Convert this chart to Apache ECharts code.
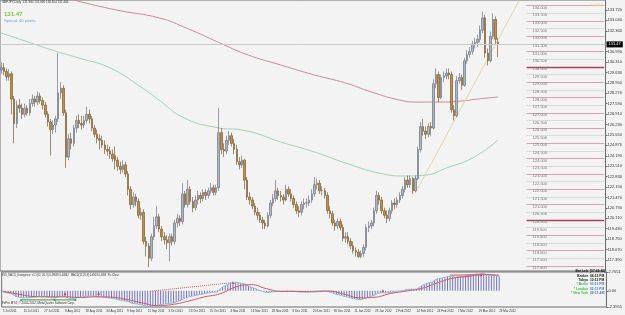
<!DOCTYPE html>
<html>
<head>
<meta charset="utf-8">
<script src="https://cdn.jsdelivr.net/npm/echarts@6.0.0/dist/echarts.min.js"></script>
<style>
  html, body { margin: 0; padding: 0; background: #f3f3f3; }
  #chart { width: 625px; height: 315px; }
</style>
</head>
<body>
<div id="chart"></div>
<script>
// daily GBPJPY bars, 5 Jul 2011 .. 29 Mar 2012 : [open, close, low, high]
var bars = [
  [129.80,129.95,129.55,130.30],[129.95,129.70,129.45,130.25],[129.70,129.35,129.10,129.90],[129.35,129.55,129.10,129.85],
  [129.55,127.90,126.90,129.70],[127.90,126.30,125.00,128.10],[126.30,127.50,126.00,127.80],[127.50,127.30,127.00,127.90],
  [127.30,126.90,126.60,127.60],[126.90,127.30,126.70,127.60],[127.30,127.00,126.80,127.50],[127.00,127.60,126.80,127.90],
  [127.60,127.90,127.40,128.20],[127.90,127.70,127.40,128.10],[127.70,128.10,127.50,128.40],[128.10,127.80,127.60,128.30],
  [127.80,127.50,127.20,128.00],[127.50,126.90,126.70,127.70],[126.90,126.40,126.10,127.10],[126.40,125.90,124.20,126.60],
  [125.90,126.20,125.60,126.50],[126.20,126.60,125.70,126.80],[126.60,128.30,126.40,130.90],[128.30,128.60,127.90,129.00],
  [128.60,127.00,126.80,128.80],[127.00,124.10,123.40,127.20],[124.10,125.30,123.90,125.60],[125.30,125.00,124.60,125.70],
  [125.00,126.00,124.80,126.20],[126.00,126.50,125.70,126.80],[126.50,126.30,126.00,126.90],[126.30,126.20,125.90,126.80],
  [126.20,126.50,126.00,126.80],[126.50,126.90,126.30,127.40],[126.90,126.60,126.30,127.20],[126.60,126.00,125.80,126.80],
  [126.00,125.60,125.40,126.20],[125.60,125.30,125.00,125.90],[125.30,125.20,124.60,125.60],[125.20,124.90,124.70,125.50],
  [124.90,124.60,124.30,125.20],[124.60,124.50,124.20,124.90],[124.50,124.30,124.00,124.80],[124.30,124.00,123.80,124.60],
  [124.20,123.90,123.30,124.80],[123.90,123.50,123.20,124.10],[123.50,123.30,123.00,123.80],[123.30,123.60,123.10,123.90],
  [123.60,123.00,122.80,123.80],[123.00,122.00,121.60,123.20],[122.00,121.00,120.70,122.20],[121.00,121.50,120.80,121.80],
  [121.50,121.20,120.90,121.70],[121.20,120.30,120.10,121.40],[120.30,120.50,120.00,120.80],[120.50,118.60,118.40,120.70],
  [118.60,118.30,117.60,118.90],[118.30,117.50,116.90,118.50],[117.50,118.90,117.30,119.10],[118.90,119.60,118.70,120.20],
  [119.60,120.20,119.40,120.90],[120.20,119.40,119.20,120.40],[119.40,118.90,118.60,119.60],[118.90,118.70,118.40,119.20],
  [118.70,118.50,118.10,119.00],[118.50,118.90,117.30,119.10],[118.90,118.60,118.30,119.10],[118.60,119.80,118.40,120.00],
  [119.80,120.10,119.50,120.40],[120.10,119.90,119.60,120.30],[119.90,121.70,119.70,122.40],[121.70,121.00,120.80,121.90],
  [121.00,122.00,120.80,122.60],[122.00,121.20,121.00,122.20],[121.20,120.80,120.50,121.50],[120.80,121.30,120.60,121.60],
  [121.30,121.60,121.00,121.90],[121.60,121.40,121.10,121.80],[121.40,121.80,121.20,122.00],[121.80,121.60,121.30,122.00],
  [121.60,121.90,121.40,122.10],[121.90,122.10,121.70,122.40],[122.10,121.80,121.60,122.30],[121.80,122.10,121.60,122.30],
  [122.10,125.70,121.90,127.30],[125.70,124.60,124.30,126.00],[124.60,124.50,124.10,125.00],[124.50,125.20,124.30,125.50],
  [125.20,125.50,124.90,125.80],[125.50,125.00,124.80,125.70],[125.00,124.60,124.30,125.30],[124.60,123.80,123.60,124.90],
  [123.80,123.60,123.30,124.10],[123.60,123.90,123.40,124.20],[123.90,122.60,122.00,124.00],[122.60,121.50,121.30,122.80],
  [121.50,121.30,121.00,121.80],[121.30,120.90,120.70,121.50],[120.90,120.50,120.30,121.10],[120.50,120.30,120.00,120.80],
  [120.30,120.00,119.80,120.50],[120.00,119.80,119.40,120.20],[119.80,119.60,119.40,120.00],[119.60,120.30,119.50,120.50],
  [120.30,121.10,120.10,121.30],[121.10,121.40,120.90,121.70],[121.40,121.90,121.20,122.60],[121.90,121.60,121.30,122.10],
  [121.60,121.50,121.20,121.90],[121.50,121.30,121.00,121.70],[121.30,122.00,121.20,122.30],[122.00,121.70,121.50,122.20],
  [121.70,121.40,121.20,122.00],[121.40,121.00,120.80,121.60],[121.00,120.60,120.40,121.20],[120.60,120.50,120.20,120.90],
  [120.50,121.00,120.30,121.20],[121.00,121.10,120.70,121.40],[121.10,121.12,120.80,121.40],[121.10,121.30,120.90,121.60],
  [121.30,121.70,121.10,122.00],[121.70,122.30,121.50,122.80],[122.30,122.40,122.00,122.70],[122.40,121.90,121.70,122.60],
  [121.90,121.92,121.60,122.20],[121.90,121.60,121.40,122.10],[121.60,120.60,120.40,121.80],[120.60,120.40,120.10,120.90],
  [120.40,119.80,119.60,120.60],[119.80,119.60,119.30,120.00],[119.60,119.90,119.40,120.10],[119.90,119.50,119.30,120.10],
  [119.50,118.80,118.60,119.70],[118.80,118.90,118.50,119.20],[118.90,118.60,118.40,119.20],[118.60,118.30,118.10,118.80],
  [118.30,118.00,117.80,118.60],[118.00,117.90,117.60,118.20],[117.90,117.60,117.50,118.10],[117.60,117.80,117.50,118.00],
  [117.80,118.20,117.60,118.40],[118.20,119.50,118.00,119.70],[119.50,119.60,119.20,119.90],[119.60,119.80,119.40,120.00],
  [119.80,120.60,119.60,120.80],[120.60,121.60,120.40,121.90],[121.60,121.30,121.00,121.80],[121.30,120.60,120.40,121.50],
  [120.60,120.30,120.10,120.80],[120.30,120.10,119.80,120.60],[120.10,120.60,119.90,120.80],[120.60,121.10,120.40,121.30],
  [121.10,121.00,120.70,121.40],[121.00,121.30,120.80,121.50],[121.30,121.60,121.10,121.80],[121.60,122.00,121.40,122.20],
  [122.00,122.60,121.80,122.80],[122.60,122.30,122.10,122.90],[122.30,122.70,122.10,122.90],[122.70,121.90,121.70,122.80],
  [121.90,122.70,121.80,122.90],[122.70,124.60,122.60,124.80],[124.60,126.10,124.40,126.40],[126.10,125.80,125.50,126.60],
  [125.80,125.60,125.30,126.10],[125.60,126.10,125.40,126.30],[126.10,126.00,125.50,126.40],[126.00,128.90,125.90,129.20],
  [128.90,129.50,128.60,129.90],[129.50,128.00,127.70,129.70],[128.00,129.30,127.90,129.50],[129.30,129.40,129.00,129.70],
  [129.40,129.60,129.20,129.90],[129.60,129.50,129.20,129.90],[129.50,127.20,127.00,129.70],[127.20,126.80,126.50,127.50],
  [126.80,129.10,126.70,129.40],[129.10,129.30,128.90,129.60],[129.30,128.80,128.50,129.50],[128.80,130.40,128.70,130.60],
  [130.40,130.80,130.20,131.10],[130.80,131.00,130.60,131.30],[131.00,131.50,130.80,131.70],[131.50,131.60,131.20,131.90],
  [131.60,131.80,131.30,132.10],[131.80,132.40,131.60,132.70],[132.40,133.20,132.20,133.60],[133.20,130.90,130.60,133.40],
  [130.90,130.40,130.10,131.20],[130.40,132.00,130.30,132.30],[132.00,133.10,131.80,133.50],[133.10,131.80,131.50,133.30],
  [131.60,131.47,130.65,131.90]
];

// MACD main value per bar (drawn as histogram + line)
var macd = [
  -0.20,-0.25,-0.35,-0.40,-0.60,-0.85,-0.95,-1.00,-1.05,-1.05,
  -1.05,-1.00,-0.95,-0.90,-0.85,-0.85,-0.85,-0.90,-0.95,-1.05,
  -1.05,-0.95,-0.85,-0.80,-0.85,-1.05,-1.10,-1.15,-1.10,-1.00,
  -0.95,-0.90,-0.85,-0.80,-0.80,-0.80,-0.85,-0.90,-0.90,-0.95,
  -1.00,-1.05,-1.10,-1.15,-1.25,-1.35,-1.45,-1.50,-1.55,-1.70,
  -1.85,-1.90,-1.95,-2.05,-2.10,-2.25,-2.35,-2.45,-2.40,-2.25,
  -2.10,-2.05,-2.00,-1.95,-1.90,-1.85,-1.80,-1.65,-1.50,-1.40,
  -1.15,-1.05,-0.85,-0.80,-0.75,-0.65,-0.55,-0.50,-0.40,-0.35,
  -0.30,-0.25,-0.20,-0.20,0.25,0.55,0.75,0.95,1.10,1.20,
  1.25,1.20,1.10,1.05,0.90,0.70,0.55,0.40,0.25,0.10,
  -0.05,-0.15,-0.25,-0.25,-0.20,-0.15,-0.10,-0.10,-0.10,-0.10,
  -0.05,-0.05,-0.05,-0.10,-0.15,-0.20,-0.20,-0.20,-0.20,-0.15,
  -0.10,-0.05,0.00,0.00,0.00,-0.05,-0.15,-0.25,-0.40,-0.55,
  -0.60,-0.70,-0.85,-0.90,-1.00,-1.10,-1.20,-1.25,-1.30,-1.25,
  -1.15,-1.00,-0.85,-0.75,-0.60,-0.40,-0.30,-0.30,-0.30,-0.30,
  -0.25,-0.20,-0.10,-0.05,0.00,0.05,0.15,0.20,0.25,0.20,
  0.25,0.45,0.75,0.95,1.10,1.20,1.30,1.55,1.75,1.80,
  1.90,2.00,2.10,2.15,2.10,2.00,2.05,2.10,2.10,2.20,
  2.30,2.35,2.40,2.45,2.45,2.50,2.55,2.40,2.25,2.25,
  2.30,2.20,2.10
];

// signal line read at sample bars: [barIndex, value]
var signal = [[0,-0.10],[6,-0.50],[12,-0.85],[18,-0.90],[24,-0.90],[30,-1.00],[36,-0.90],[42,-0.95],
  [48,-1.30],[54,-1.80],[60,-2.20],[66,-2.00],[72,-1.50],[78,-0.90],[84,-0.45],[90,0.55],[96,0.90],
  [102,0.30],[108,-0.10],[114,-0.10],[120,-0.15],[126,-0.05],[132,-0.50],[138,-1.05],[144,-0.95],
  [150,-0.40],[156,-0.05],[162,0.35],[168,1.15],[174,1.85],[180,2.10],[186,2.40],[192,2.30]];

// moving averages read at sample bars: [barIndex, price]
var maSlow = [[0,135.60],[28,134.37],[45,133.70],[61,133.20],[72,132.50],[84,131.60],[95,130.80],
  [108,130.12],[121,129.47],[133,128.95],[143,128.36],[154,127.83],[161,127.70],[169,127.70],
  [178,127.77],[184,127.90],[192,128.03]];
var maFast = [[0,132.21],[8,131.76],[22,130.97],[30,130.58],[42,129.93],[54,128.68],[61,127.83],
  [70,126.72],[82,126.07],[95,125.81],[108,125.09],[121,124.44],[133,123.72],[146,123.06],
  [156,122.87],[164,122.93],[172,123.39],[182,124.04],[192,125.22]];

var trendLine = [[160,121.76],[200,134.30]];

var lastPrice = 131.47;
var levelLines = [134,133.5,133,132.5,132,131.5,131,130.5,130,129.5,129,128.5,128,127.5,127,126.5,
  126,125.5,125,124.5,124,123.5,123,122.5,122,121.5,121,120.5,120,119.5,119,118.5,118,117.5,117];
var priceTicks = [134.40,133.72,133.04,132.36,130.99,130.31,129.63,128.95,128.27,127.59,126.91,
  126.23,125.55,124.87,124.19,123.51,122.83,122.15,121.47,120.79,120.11,119.43,118.75,118.07,117.39];
var macdTicks = [2.7651, 0, -2.3955];

var dateLabels = ['5 Jul 2011','15 Jul 2011','27 Jul 2011','8 Aug 2011','18 Aug 2011','30 Aug 2011',
  '9 Sep 2011','21 Sep 2011','3 Oct 2011','13 Oct 2011','25 Oct 2011','4 Nov 2011','16 Nov 2011',
  '28 Nov 2011','8 Dec 2011','20 Dec 2011','30 Dec 2011','11 Jan 2012','23 Jan 2012','2 Feb 2012',
  '14 Feb 2012','24 Feb 2012','7 Mar 2012','19 Mar 2012','29 Mar 2012'];

var clocks = [
  ['Bar Left', '[07:46:46]', '#111', '#111'],
  ['Broker', '04:13 PM', '#111', '#111'],
  ['Tokyo', '10:13 PM', '#111', '#111'],
  ['* Berlin', '03:13 PM', '#3dbb3d', '#4a78c8'],
  ['* London', '02:13 PM', '#3dbb3d', '#4a78c8'],
  ['* New York', '09:13 AM', '#3dbb3d', '#4a78c8']
];

var slots = 234; // bars plus empty space to the right
var cats = [];
for (var i = 0; i < slots; i++) cats.push(i);

var font = 'Liberation Sans';

// level lines drawn in the empty right margin
var levelData = levelLines.map(function (v) {
  var whole = v % 1 === 0;
  var dark = v === 130 || v === 120;
  return [{
    name: v.toFixed(3), coord: [203, v],
    lineStyle: { color: dark ? '#a8405e' : (whole ? '#d9a3b3' : '#c4c4c4'), type: whole ? 'solid' : 'dotted', width: dark ? 1.4 : 1 }
  }, { coord: [233, v] }];
});

var titles = [
  { text: 'GBPJPY,Daily  131.960 131.690 130.654 131.466', left: 2, top: 1, textStyle: { fontSize: 3, color: '#333', fontFamily: font, fontWeight: 'normal' } },
  { text: '131.47', left: 4, top: 11, textStyle: { fontSize: 6, color: '#86c23e', fontFamily: font, fontWeight: 'bold' } },
  { text: 'Spread: 40 points.', left: 4, top: 18.5, textStyle: { fontSize: 4, color: '#6d9fd6', fontFamily: font, fontWeight: 'normal' } },
  { text: 'trendline', left: 590, top: 3, textStyle: { fontSize: 3.5, color: '#e8df86', fontFamily: font, fontWeight: 'normal' } },
  { text: 'FX5_MACD_Divergence_v1.1(12, 26, 9) 0.48059 0.40862   MACD(12,26,9) 0.4803 0.4096  Prc Close', left: 2, top: 274, textStyle: { fontSize: 2.6, color: '#333', fontFamily: font, fontWeight: 'normal' } },
  { text: 'FxPro MT4, \u00a9 2001-2012, MetaQuotes Software Corp.', left: 2, top: 301.5, textStyle: { fontSize: 3, color: '#333', fontFamily: font, fontWeight: 'normal' } }
];
clocks.forEach(function (c, k) {
  titles.push({ text: c[0], right: 37, top: 270 + k * 4.3, padding: 0, textStyle: { fontSize: 3.3, color: c[2], fontFamily: font, fontWeight: 'bold' } });
  titles.push({ text: c[1], left: 590, top: 270 + k * 4.3, padding: 0, textStyle: { fontSize: 3.3, color: c[3], fontFamily: font, fontWeight: 'bold' } });
});
titles.forEach(function (t) { if (t.padding === undefined) t.padding = 0; });

var option = {
  backgroundColor: '#f3f3f3',
  animation: false,
  title: titles,
  grid: [
    { left: 0, right: 13, top: 0, height: 271, show: true, borderColor: '#6e6e6e', borderWidth: 1, backgroundColor: 'transparent' },
    { left: 0, right: 13, top: 272, height: 35, show: true, borderColor: '#6e6e6e', borderWidth: 1, backgroundColor: 'transparent' }
  ],
  xAxis: [
    { type: 'category', gridIndex: 0, data: cats, boundaryGap: true,
      axisLine: { show: false }, axisTick: { show: false }, axisLabel: { show: false }, splitLine: { show: false } },
    { type: 'category', gridIndex: 1, data: cats, boundaryGap: true,
      axisLine: { show: false }, axisTick: { show: false }, splitLine: { show: false },
      axisLabel: {
        interval: 0, margin: 3, fontSize: 3, color: '#333', fontFamily: font, align: 'left',
        formatter: function (v, idx) {
          return (idx % 8 === 0 && idx / 8 < dateLabels.length) ? dateLabels[idx / 8] : '';
        }
      } }
  ],
  yAxis: [
    { type: 'value', gridIndex: 0, position: 'right', min: 116.66, max: 134.37, scale: true,
      splitLine: { show: false },
      axisLine: { show: true, lineStyle: { color: '#6e6e6e' } },
      axisTick: { show: true, length: 2, customValues: priceTicks, lineStyle: { color: '#6e6e6e' } },
      axisLabel: { customValues: priceTicks, margin: 2, fontSize: 4, color: '#333', fontFamily: font,
        formatter: function (v) { return v.toFixed(3); } } },
    { type: 'value', gridIndex: 1, position: 'right', min: -2.3955, max: 2.7651,
      splitLine: { show: false },
      axisLine: { show: true, lineStyle: { color: '#6e6e6e' } },
      axisTick: { show: true, length: 2, customValues: macdTicks, lineStyle: { color: '#6e6e6e' } },
      axisLabel: { customValues: macdTicks, margin: 2, fontSize: 4, color: '#333', fontFamily: font,
        formatter: function (v) { return v === 0 ? '0.00' : v.toFixed(4); } } }
  ],
  series: [
    { name: 'maSlow', type: 'line', xAxisIndex: 0, yAxisIndex: 0, data: maSlow, smooth: true, symbol: 'none',
      lineStyle: { color: '#c98a98', width: 1 }, z: 2 },
    { name: 'maFast', type: 'line', xAxisIndex: 0, yAxisIndex: 0, data: maFast, smooth: true, symbol: 'none',
      lineStyle: { color: '#9fd3b9', width: 1 }, z: 2 },
    { name: 'trend', type: 'line', xAxisIndex: 0, yAxisIndex: 0, data: trendLine, symbol: 'none',
      lineStyle: { color: '#e3d6a6', width: 1 }, z: 2 },
    { name: 'GBPJPY', type: 'candlestick', xAxisIndex: 0, yAxisIndex: 0, data: bars, barWidth: 2, z: 3,
      itemStyle: { color: '#aeb6c1', color0: '#c98d3e', borderColor: '#6f7680', borderColor0: '#7a5c36', borderWidth: 0.7 },
      markLine: {
        silent: true, symbol: 'none', animation: false,
        label: { show: true, position: 'insideStartBottom', distance: [6, 0], fontSize: 4, color: '#777', fontFamily: font, formatter: '{b}' },
        data: levelData.concat([{
          yAxis: lastPrice, name: 'bid',
          lineStyle: { color: '#c9c9c9', type: 'solid', width: 1 },
          label: { position: 'end', distance: 1, formatter: lastPrice.toFixed(2), backgroundColor: '#000', color: '#fff',
            fontSize: 4, padding: [1, 2], fontFamily: font }
        }])
      } },
    { name: 'hist', type: 'bar', xAxisIndex: 1, yAxisIndex: 1, data: macd, barWidth: 1,
      itemStyle: { color: '#7474bc' } },
    { name: 'macd', type: 'line', xAxisIndex: 1, yAxisIndex: 1, data: macd, symbol: 'none',
      lineStyle: { color: '#86bfe9', width: 1 } },
    { name: 'signal', type: 'line', xAxisIndex: 1, yAxisIndex: 1, data: signal, smooth: true, symbol: 'none',
      lineStyle: { color: '#d9545a', width: 1 } },
    { name: 'divUp', type: 'line', xAxisIndex: 1, yAxisIndex: 1, data: [[57,-0.07],[89,1.20]], symbol: 'none',
      lineStyle: { color: '#d9545a', width: 1, type: 'dotted' } },
    { name: 'divTop', type: 'line', xAxisIndex: 1, yAxisIndex: 1, data: [[173,2.30],[185,2.35]], symbol: 'none',
      lineStyle: { color: '#d9545a', width: 1 } },
    { name: 'divLow', type: 'line', xAxisIndex: 1, yAxisIndex: 1, data: [[7,-1.35],[20,-1.35],[28,-1.35]],
      symbol: 'circle', symbolSize: 2, itemStyle: { color: '#3a9a3a' }, lineStyle: { color: '#3a9a3a', width: 1 } },
    { name: 'divMarks', type: 'scatter', xAxisIndex: 1, yAxisIndex: 1,
      data: [[24,-0.45],[37,-0.35],[89,1.20],[147,0.00],[185,2.35]], symbol: 'triangle', symbolSize: 3,
      itemStyle: { color: '#c0303a' } }
  ]
};

var myChart = echarts.init(document.getElementById('chart'));
myChart.setOption(option);
</script>
</body>
</html>
